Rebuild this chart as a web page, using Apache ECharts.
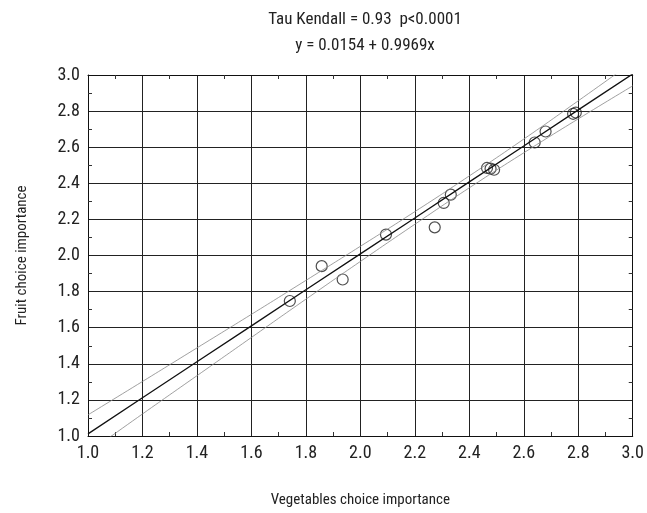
<!DOCTYPE html>
<html>
<head>
<meta charset="utf-8">
<script src="https://cdn.jsdelivr.net/npm/echarts@6/dist/echarts.min.js"></script>
<style>
  html,body{margin:0;padding:0;background:#fff;}
  #chart{width:647px;height:513px;}
</style>
</head>
<body>
<div id="chart"></div>
<script>
// observed points (vegetables, fruit)
const vegValues = [1.741, 1.858, 1.935, 2.094, 2.273, 2.306, 2.332, 2.465, 2.478, 2.491, 2.640, 2.680, 2.781, 2.791];
const fruitValues = [1.748, 1.941, 1.867, 2.116, 2.156, 2.291, 2.337, 2.485, 2.481, 2.475, 2.626, 2.687, 2.785, 2.792];

// fitted line and confidence band, read at each grid step
const bandX = [1.0, 1.2, 1.4, 1.6, 1.8, 2.0, 2.2, 2.4, 2.6, 2.8, 3.0];
const fitY = [1.012, 1.212, 1.411, 1.610, 1.810, 2.009, 2.208, 2.408, 2.607, 2.807, 3.006];
const upperY = [1.117, 1.302, 1.488, 1.674, 1.862, 2.051, 2.243, 2.441, 2.645, 2.857, 3.072];
const lowerY = [0.907, 1.122, 1.334, 1.546, 1.758, 1.967, 2.173, 2.375, 2.569, 2.757, 2.940];

const titleLines = ['Tau Kendall = 0.93  p<0.0001', 'y = 0.0154 + 0.9969x'];
const xName = 'Vegetables choice importance';
const yName = 'Fruit choice importance';

const font = '"Liberation Sans Narrow", "Arial Narrow", "Roboto Condensed", sans-serif';

const zip = (xs, ys) => xs.map((x, i) => [x, ys[i]]);

const chart = echarts.init(document.getElementById('chart'), null, {renderer: 'canvas'});

const baseAxis = {
    type: 'value',
    min: 1.0,
    max: 3.0,
    interval: 0.2,
    axisLine: {show: true, lineStyle: {color: '#111', width: 1}},
    axisTick: {show: false, inside: true},
    minorTick: {show: true, splitNumber: 2, length: 4, lineStyle: {color: '#333'}},
    splitLine: {show: true, lineStyle: {color: '#222', width: 1}}
};

const labelStyle = {
    fontFamily: font, fontSize: 18, color: '#222', margin: 8,
    formatter: v => v.toFixed(1)
};

const option = {
    animation: false,
    backgroundColor: '#fff',
    title: titleLines.map((t, i) => ({
        text: t,
        left: 360,
        top: 6 + i * 26,
        textAlign: 'center',
        textStyle: {fontFamily: font, fontSize: 17, fontWeight: 'normal', color: '#222'}
    })),
    grid: {left: 88, right: 14, top: 75, bottom: 76, containLabel: false},
    xAxis: [
        Object.assign({}, baseAxis, {
            position: 'bottom',
            name: xName,
            nameLocation: 'middle',
            nameGap: 57,
            nameTextStyle: {fontFamily: font, fontSize: 15, color: '#222'},
            axisLabel: labelStyle
        }),
        Object.assign({}, baseAxis, {
            position: 'top',
            axisLabel: {show: false},
            splitLine: {show: false}
        })
    ],
    yAxis: [
        Object.assign({}, baseAxis, {
            position: 'left',
            name: yName,
            nameLocation: 'middle',
            nameGap: 58,
            nameRotate: 90,
            nameTextStyle: {fontFamily: font, fontSize: 15, color: '#222'},
            axisLabel: labelStyle
        }),
        Object.assign({}, baseAxis, {
            position: 'right',
            axisLabel: {show: false},
            splitLine: {show: false}
        })
    ],
    series: [
        {
            name: 'upper',
            type: 'line',
            smooth: true,
            showSymbol: false,
            clip: true,
            data: zip(bandX, upperY),
            lineStyle: {color: '#888', width: 0.8}
        },
        {
            name: 'lower',
            type: 'line',
            smooth: true,
            showSymbol: false,
            clip: true,
            data: zip(bandX, lowerY),
            lineStyle: {color: '#888', width: 0.8}
        },
        {
            name: 'fit',
            type: 'line',
            showSymbol: false,
            clip: true,
            data: zip(bandX, fitY),
            lineStyle: {color: '#111', width: 1.3}
        },
        {
            name: 'points',
            type: 'scatter',
            symbol: 'circle',
            symbolSize: 11,
            data: zip(vegValues, fruitValues),
            itemStyle: {color: 'rgba(255,255,255,0)', borderColor: '#222', borderWidth: 1.2}
        }
    ]
};

chart.setOption(option);
</script>
</body>
</html>
